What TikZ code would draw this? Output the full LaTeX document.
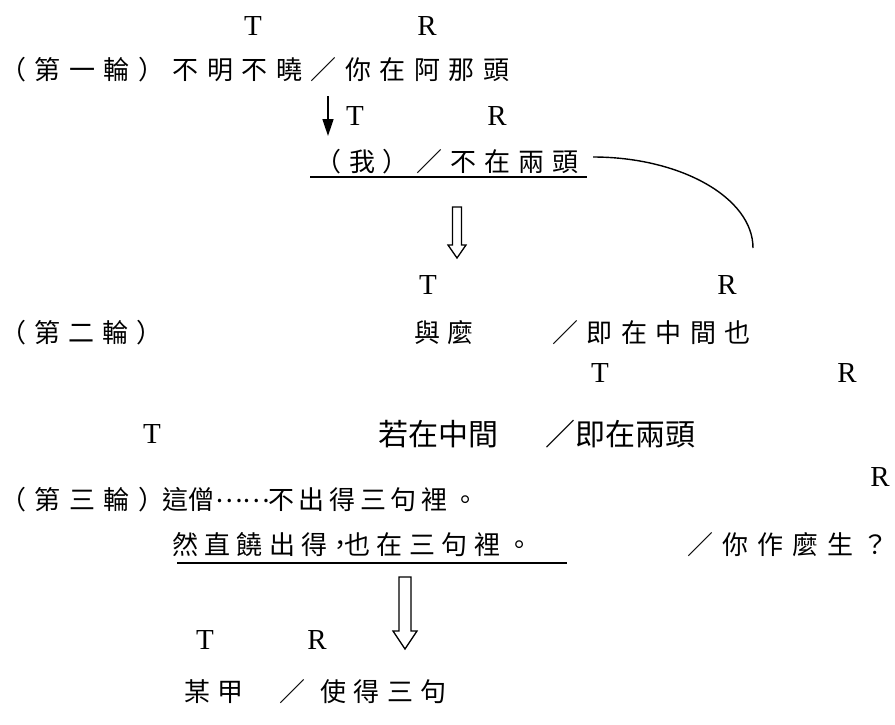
\documentclass[tikz,border=0pt]{standalone}
\usepackage{fontspec}
\setmainfont{Liberation Serif}
\newfontfamily\cjk{Noto Sans CJK TC}
\usetikzlibrary{arrows.meta}
\makeatletter
\def\spc@end{\spc@end}
\newcommand\spc[2]{\def\spc@gap{#1}\spc@first#2\spc@end}
\def\spc@first#1{#1\spc@a}
\def\spc@a#1{\ifx#1\spc@end\else\hskip\spc@gap\relax#1\expandafter\spc@a\fi}
\makeatother
\begin{document}
\begin{tikzpicture}[x=1pt,y=-1pt,
  tr/.style={anchor=base, inner sep=0pt, font=\fontsize{29}{29}\selectfont},
  zh/.style={anchor=base west, inner sep=0pt, font=\cjk\fontsize{26}{26}\selectfont},
  zhb/.style={anchor=base west, inner sep=0pt, font=\cjk\fontsize{30}{30}\selectfont},
  uline/.style={line width=1.5pt},
  curveline/.style={line width=1.4pt},
  hollow/.style={draw, line width=1.3pt, fill=white, line join=miter},
  blackarrow/.style={line width=1.6pt, -{Triangle[length=17pt,width=11pt]}}]
\useasboundingbox (0,0) rectangle (895,724);
% ---- first round
\node[tr] (T1) at (253,35.6) {T};
\node[tr] (R1) at (427,35.6) {R};
\node[zh] (L2) at (0,79.9) {\spc{8.5pt}{（第一輪）不明不曉／你在阿那頭}};
\coordinate (a1s) at (328,96);
\coordinate (a1e) at (328,136);
\draw[blackarrow] (a1s) -- (a1e);
\node[tr] (T2) at (355,125.6) {T};
\node[tr] (R2) at (497,125.6) {R};
\node[zh] (L3) at (315,171.9) {\spc{7.9pt}{（我）／不在兩頭}};
\coordinate (u1s) at (310,177);
\coordinate (u1e) at (587,177);
\draw[uline] (u1s) -- (u1e);
\coordinate (cs) at (593,157);
\coordinate (ce) at (753,248);
\draw[curveline] (cs) .. controls (681,157) and (753,198) .. (ce);
\draw[hollow] (452.5,207) -- (461.5,207) -- (461.5,245) -- (466,245) -- (457,258) -- (448,245) -- (452.5,245) -- cycle;
% ---- second round
\node[tr] (T3) at (428,294.6) {T};
\node[tr] (R3) at (727,294.6) {R};
\node[zh] (L4a) at (0,342.9) {\spc{8pt}{（第二輪）}};
\node[zh] (L4b) at (414,342.9) {\spc{7pt}{與麼}};
\node[zh] (L4c) at (552,342.9) {\spc{8.5pt}{／即在中間也}};
\node[tr] (T4) at (600,382.6) {T};
\node[tr] (R4) at (847,382.6) {R};
\node[tr] (T5) at (152,443.6) {T};
\node[zhb] (L5a) at (378,445.4) {若在中間};
\node[zhb] (L5b) at (545,445.4) {／即在兩頭};
% ---- third round
\node[zh] (L6a) at (0,509.9) {\spc{8.5pt}{（第三輪）}};
\node[zh] (L6b) at (162,509.9) {這僧};
\node[zh] (L6c) at (215,509.9) {\raisebox{7pt}{……}};
\node[zh] (L6d) at (268,509.9) {\spc{4.7pt}{不出得三句裡。}};
\node[tr] (R5) at (880,486.6) {R};
\node[zh] (L7a) at (172,554.9) {\spc{6.3pt}{然直饒出得}};
\node[zh] (L7b) at (327,554.9) {，};
\node[zh] (L7c) at (344,554.9) {\spc{6.5pt}{也在三句裡。}};
\node[zh] (L7d) at (687,554.9) {\spc{9pt}{／你作麼生？}};
\coordinate (u2s) at (177,563);
\coordinate (u2e) at (567,563);
\draw[uline] (u2s) -- (u2e);
\draw[hollow] (399,577) -- (411,577) -- (411,631) -- (417,631) -- (405,649) -- (393,631) -- (399,631) -- cycle;
\node[tr] (T6) at (205,649.6) {T};
\node[tr] (R6) at (317,649.6) {R};
\node[zh] (L8a) at (184,701.9) {\spc{7pt}{某甲}};
\node[zh] (L8b) at (279,701.9) {／};
\node[zh] (L8c) at (320,701.9) {\spc{7.5pt}{使得三句}};
\end{tikzpicture}
\end{document}
